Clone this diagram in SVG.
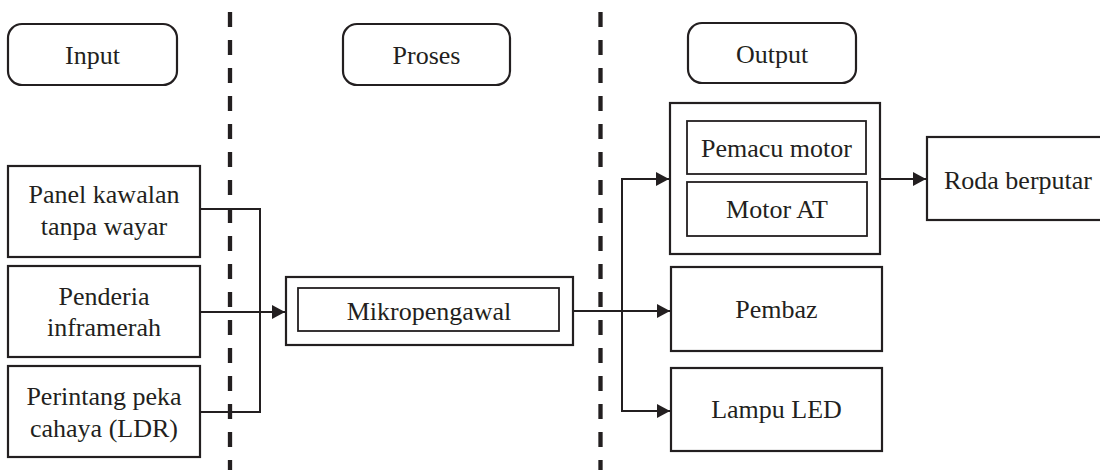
<svg xmlns="http://www.w3.org/2000/svg" width="1100" height="470" viewBox="0 0 1100 470">
<defs>
<style>
.t{font-family:"Liberation Serif","Times New Roman",serif;font-size:26px;fill:#231f20;text-anchor:middle}
.b{fill:#fff;stroke:#231f20;stroke-width:2.2}
.bi{fill:none;stroke:#231f20;stroke-width:1.8}
.c{fill:none;stroke:#231f20;stroke-width:2}
.d{stroke:#231f20;stroke-width:4.3;stroke-dasharray:15 13}
</style>
<marker id="ah" markerWidth="14" markerHeight="14" refX="13" refY="7" orient="auto" markerUnits="userSpaceOnUse">
<path d="M0,0 L13,7 L0,14 Z" fill="#231f20"/>
</marker>
</defs>
<rect width="1100" height="470" fill="#fff"/>
<g id="dividers">
<line class="d" x1="230" y1="12" x2="230" y2="470"/>
<line class="d" x1="600.5" y1="12" x2="600.5" y2="470"/>
</g>
<g id="connectors">
<polyline class="c" points="200,209 260,209 260,412 200,412"/>
<line class="c" x1="200" y1="312" x2="285" y2="312" marker-end="url(#ah)"/>
<line class="c" x1="573" y1="311" x2="670" y2="311" marker-end="url(#ah)"/>
<line class="c" x1="622" y1="179" x2="622" y2="411"/>
<line class="c" x1="621" y1="179" x2="669" y2="179" marker-end="url(#ah)"/>
<line class="c" x1="621" y1="411" x2="670" y2="411" marker-end="url(#ah)"/>
<line class="c" x1="880" y1="179" x2="926" y2="179" marker-end="url(#ah)"/>
</g>
<g id="input-label">
<rect class="b" x="8" y="24" width="169" height="61" rx="14" stroke-width="1.5"/>
<text class="t" x="92.5" y="64">Input</text>
</g>
<g id="proses-label">
<rect class="b" x="343" y="24" width="167" height="61" rx="14" stroke-width="1.5"/>
<text class="t" x="426.5" y="64">Proses</text>
</g>
<g id="output-label">
<rect class="b" x="688" y="23" width="168" height="60" rx="14" stroke-width="1.5"/>
<text class="t" x="772" y="63">Output</text>
</g>
<g id="panel">
<rect class="b" x="8" y="166" width="192" height="91"/>
<text class="t" x="104" y="203">Panel kawalan</text>
<text class="t" x="104" y="235">tanpa wayar</text>
</g>
<g id="penderia">
<rect class="b" x="8" y="266" width="192" height="91"/>
<text class="t" x="104" y="305">Penderia</text>
<text class="t" x="104" y="336">inframerah</text>
</g>
<g id="perintang">
<rect class="b" x="8" y="366" width="192" height="91"/>
<text class="t" x="104" y="405">Perintang peka</text>
<text class="t" x="104" y="437">cahaya (LDR)</text>
</g>
<g id="mikropengawal">
<rect class="b" x="286" y="277" width="287" height="68"/>
<rect class="bi" x="298" y="288" width="261" height="43"/>
<text class="t" x="429" y="320">Mikropengawal</text>
</g>
<g id="motor">
<rect class="b" x="670" y="103" width="210" height="151"/>
<rect class="bi" x="687" y="121" width="179" height="53"/>
<text class="t" x="776.5" y="157">Pemacu motor</text>
<rect class="bi" x="687" y="182" width="180" height="54"/>
<text class="t" x="777" y="218">Motor AT</text>
</g>
<g id="roda">
<rect class="b" x="927" y="137" width="190" height="83"/>
<text class="t" x="1018" y="189">Roda berputar</text>
</g>
<g id="pembaz">
<rect class="b" x="671" y="267" width="211" height="84"/>
<text class="t" x="776.5" y="318">Pembaz</text>
</g>
<g id="lampu">
<rect class="b" x="671" y="368" width="211" height="83"/>
<text class="t" x="776.5" y="418">Lampu LED</text>
</g>
</svg>
